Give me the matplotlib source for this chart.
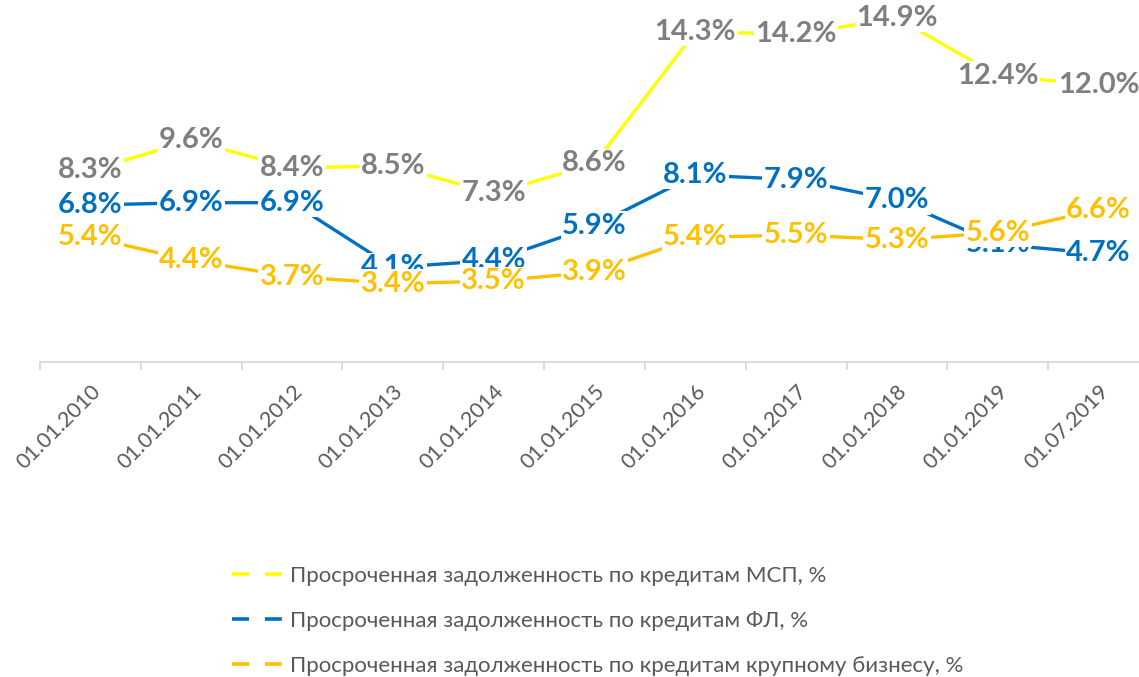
import numpy as np
import matplotlib.pyplot as plt
from matplotlib.lines import Line2D

# Data
dates = ['01.01.2010', '01.01.2011', '01.01.2012', '01.01.2013', '01.01.2014', '01.01.2015',
         '01.01.2016', '01.01.2017', '01.01.2018', '01.01.2019', '01.07.2019']
msp = [8.3, 9.6, 8.4, 8.5, 7.3, 8.6, 14.3, 14.2, 14.9, 12.4, 12.0]
fl = [6.8, 6.9, 6.9, 4.1, 4.4, 5.9, 8.1, 7.9, 7.0, 5.1, 4.7]
big = [5.4, 4.4, 3.7, 3.4, 3.5, 3.9, 5.4, 5.5, 5.3, 5.6, 6.6]

names = ['Просроченная задолженность по кредитам МСП, %',
         'Просроченная задолженность по кредитам ФЛ, %',
         'Просроченная задолженность по кредитам крупному бизнесу, %']
line_colors = ['#FFFF00', '#0070C0', '#FFC000']
label_colors = ['#7F7F7F', '#0070C0', '#FFC000']

plt.rcParams['font.family'] = ['Lato', 'Noto Sans', 'DejaVu Sans']

W, H = 1139, 677
fig = plt.figure(figsize=(W / 100, H / 100), dpi=100)
ax = fig.add_axes([40 / W, (H - 362) / H, (1149 - 40) / W, 362 / H])

x = np.arange(len(dates))
z = 2
for vals, lc, tc in zip([msp, fl, big], line_colors, label_colors):
    ax.plot(x, vals, color=lc, lw=2.4, solid_capstyle='round', zorder=z, clip_on=False)
    for xi, v in zip(x, vals):
        ax.text(xi, v, f'{v:.1f}%', ha='center', va='center', color=tc,
                fontsize=21, fontweight='bold', zorder=z + 1,
                bbox=dict(boxstyle='square,pad=0.05', fc='white', ec='none'))
    z += 2

ax.set_xlim(-0.5, len(dates) - 0.5)
ax.set_ylim(0, 15.68)

for s in ['top', 'right', 'left']:
    ax.spines[s].set_visible(False)
ax.spines['bottom'].set_color('#D9D9D9')
ax.spines['bottom'].set_linewidth(1.3)
ax.set_yticks([])

ax.set_xticks(x)
ax.set_xticklabels(dates, rotation=45, ha='right', va='top', rotation_mode='anchor',
                   fontsize=15.5, color='#595959')
ax.tick_params(axis='x', which='major', length=0, pad=14)
ax.set_xticks(np.arange(-0.5, len(dates) + 0.5, 1), minor=True)
ax.tick_params(axis='x', which='minor', length=6, color='#D9D9D9', width=1.3)

handles = [Line2D([0], [0], color=c, lw=2.6, linestyle=(0, (4.7, 4.4))) for c in line_colors]
fig.legend(handles, names, loc='upper left', bbox_to_anchor=(223 / W, 1 - 557 / H),
           frameon=False, fontsize=16, labelcolor='#595959', handlelength=2.5,
           handletextpad=0.1, labelspacing=1.12, borderaxespad=0)

fig.savefig('out.png', dpi=100)
